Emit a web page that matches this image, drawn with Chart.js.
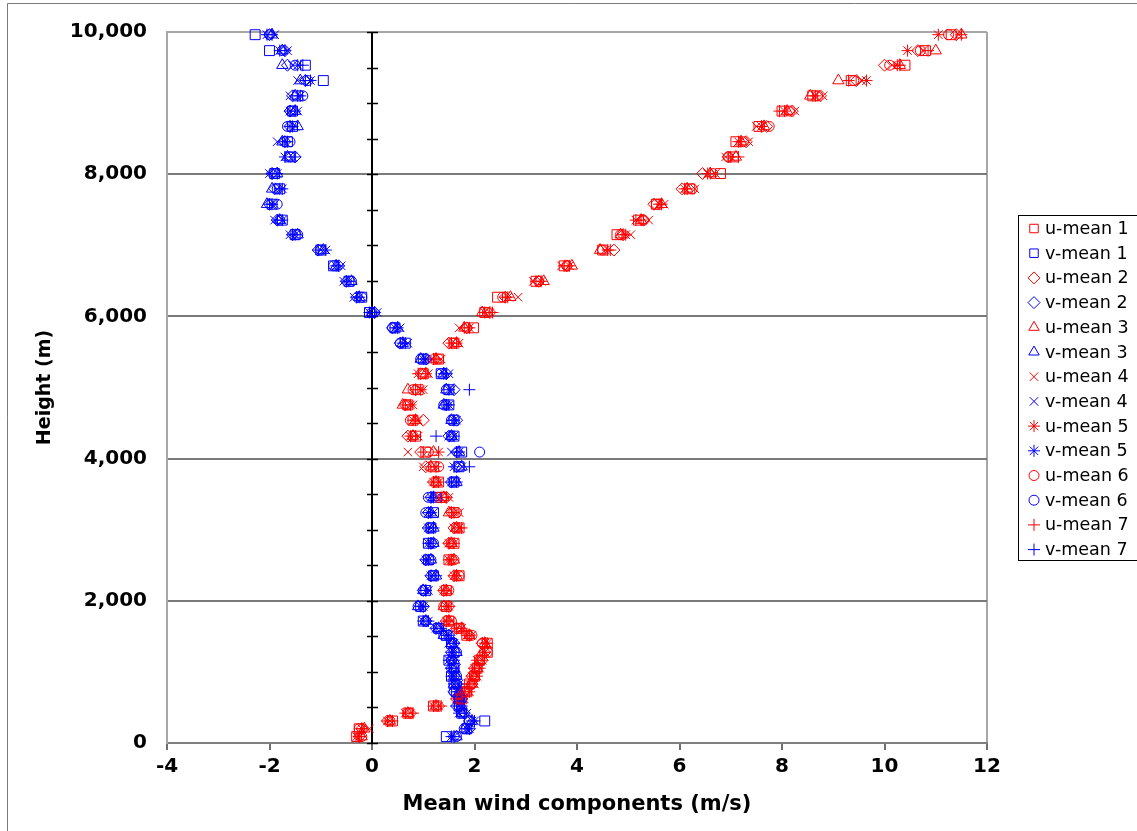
<!DOCTYPE html>
<html><head><meta charset="utf-8">
<script src="https://cdn.jsdelivr.net/npm/chart.js@4"></script>
<style>html,body{margin:0;padding:0;background:#fff;overflow:hidden}#wrap{position:relative;width:1137px;height:831px}</style>
</head><body><div id="wrap"><canvas id="c"></canvas></div>
<script>
// ---- data ----
const heights = [9962, 9738, 9533, 9317, 9102, 8888, 8672, 8457, 8243, 8009, 7794, 7578, 7354, 7149, 6933, 6711, 6494, 6270, 6055, 5839, 5624, 5400, 5194, 4969, 4755, 4540, 4316, 4092, 3885, 3670, 3455, 3240, 3025, 2809, 2576, 2352, 2146, 1921, 1715, 1613, 1515, 1403, 1276, 1164, 1052, 940, 830, 720, 620, 520, 420, 310, 200, 90];

const uMean1 = [11.3, 10.8, 10.4, 9.35, 8.6, 8.0, 7.55, 7.1, 7.05, 6.8, 6.2, 5.55, 5.2, 4.78, 4.5, 3.75, 3.2, 2.45, 2.2, 1.98, 1.6, 1.3, 1.0, 0.9, 0.7, 0.8, 0.85, 1.05, 1.2, 1.3, 1.35, 1.6, 1.7, 1.6, 1.5, 1.7, 1.45, 1.45, 1.5, 1.7, 1.85, 2.25, 2.25, 2.1, 2.05, 2.0, 1.9, 1.85, 1.75, 1.2, 0.7, 0.4, -0.25, -0.3];
const vMean1 = [-2.28, -2.0, -1.3, -0.95, -1.45, -1.55, -1.55, -1.65, -1.6, -1.9, -1.8, -1.95, -1.75, -1.5, -1.0, -0.75, -0.45, -0.2, -0.05, 0.45, 0.65, 1.0, 1.35, 1.5, 1.5, 1.6, 1.6, 1.75, 1.7, 1.6, 1.25, 1.2, 1.15, 1.1, 1.1, 1.2, 1.05, 0.95, 1.0, 1.3, 1.45, 1.55, 1.6, 1.5, 1.6, 1.55, 1.6, 1.65, 1.7, 1.7, 1.75, 2.2, 1.85, 1.45];
const uMean2 = [11.4, 10.65, 10.0, 9.45, 8.75, 8.2, 7.7, 7.3, 6.95, 6.45, 6.05, 5.5, 5.3, 4.9, 4.72, 3.8, 3.25, 2.6, 2.3, 1.85, 1.5, 1.2, 0.95, 0.85, 0.65, 1.0, 0.7, 0.95, 1.05, 1.2, 1.45, 1.55, 1.6, 1.5, 1.55, 1.6, 1.4, 1.5, 1.45, 1.65, 1.9, 2.15, 2.2, 2.15, 2.0, 1.95, 1.95, 1.8, 1.65, 1.3, 0.75, 0.3, -0.2, -0.25];
const vMean2 = [-2.0, -1.7, -1.65, -1.3, -1.55, -1.6, -1.6, -1.7, -1.5, -1.95, -1.9, -2.0, -1.85, -1.55, -1.05, -0.65, -0.5, -0.3, 0.05, 0.4, 0.55, 1.05, 1.45, 1.6, 1.45, 1.65, 1.5, 1.65, 1.65, 1.55, 1.15, 1.1, 1.1, 1.15, 1.05, 1.15, 1.0, 1.0, 1.05, 1.25, 1.5, 1.6, 1.55, 1.55, 1.55, 1.6, 1.65, 1.6, 1.75, 1.65, 1.8, 1.9, 1.9, 1.6];
const uMean3 = [11.5, 11.0, 10.3, 9.1, 8.55, 8.1, 7.65, 7.2, 7.1, 6.6, 6.15, 5.65, 5.25, 4.85, 4.45, 3.9, 3.35, 2.7, 2.15, 1.8, 1.65, 1.25, 1.05, 0.7, 0.6, 0.85, 0.8, 1.2, 1.15, 1.25, 1.4, 1.5, 1.65, 1.55, 1.6, 1.65, 1.45, 1.4, 1.5, 1.75, 1.9, 2.2, 2.15, 2.1, 2.05, 2.0, 1.95, 1.85, 1.7, 1.25, 0.7, 0.35, -0.15, -0.2];
const vMean3 = [-1.95, -1.75, -1.75, -1.4, -1.5, -1.5, -1.45, -1.75, -1.65, -1.85, -1.95, -2.05, -1.8, -1.45, -0.95, -0.7, -0.4, -0.25, 0.0, 0.5, 0.6, 0.95, 1.4, 1.45, 1.4, 1.55, 1.55, 1.7, 1.75, 1.65, 1.2, 1.15, 1.2, 1.2, 1.15, 1.25, 1.0, 0.9, 1.05, 1.3, 1.4, 1.55, 1.65, 1.6, 1.6, 1.65, 1.6, 1.7, 1.7, 1.75, 1.75, 1.95, 1.8, 1.65];
const uMean4 = [11.45, 10.75, 10.15, 9.55, 8.8, 8.25, 7.5, 7.35, 6.9, 6.7, 6.3, 5.7, 5.4, 5.05, 4.55, 3.7, 3.15, 2.85, 2.3, 1.7, 1.7, 1.35, 1.1, 1.0, 0.8, 0.9, 0.9, 0.7, 1.0, 1.3, 1.5, 1.7, 1.6, 1.6, 1.55, 1.65, 1.5, 1.45, 1.55, 1.75, 1.95, 2.2, 2.2, 2.05, 2.1, 2.05, 2.0, 1.9, 1.7, 1.3, 0.75, 0.35, -0.05, -0.3];
const vMean4 = [-1.9, -1.65, -1.55, -1.45, -1.6, -1.45, -1.5, -1.85, -1.55, -2.0, -1.85, -1.9, -1.9, -1.6, -1.0, -0.6, -0.55, -0.35, 0.1, 0.55, 0.7, 1.05, 1.5, 1.55, 1.5, 1.65, 1.5, 1.55, 1.75, 1.65, 1.25, 1.2, 1.15, 1.1, 1.1, 1.2, 1.1, 0.95, 1.1, 1.35, 1.5, 1.5, 1.6, 1.6, 1.65, 1.6, 1.7, 1.65, 1.8, 1.7, 1.85, 2.0, 1.9, 1.6];
const uMean5 = [11.05, 10.45, 10.25, 9.65, 8.65, 8.05, 7.6, 7.15, 7.0, 6.55, 6.1, 5.6, 5.15, 4.95, 4.6, 3.85, 3.3, 2.65, 2.2, 1.9, 1.55, 1.2, 0.9, 0.95, 0.75, 0.8, 0.75, 1.3, 1.25, 1.2, 1.35, 1.6, 1.7, 1.5, 1.5, 1.6, 1.4, 1.5, 1.45, 1.65, 1.85, 2.25, 2.2, 2.15, 2.0, 1.95, 1.9, 1.8, 1.65, 1.2, 0.65, 0.3, -0.2, -0.25];
const vMean5 = [-2.05, -1.8, -1.45, -1.2, -1.4, -1.6, -1.6, -1.7, -1.7, -1.85, -1.75, -1.95, -1.75, -1.5, -0.9, -0.7, -0.45, -0.25, -0.05, 0.45, 0.6, 1.0, 1.4, 1.5, 1.45, 1.6, 1.6, 1.7, 1.6, 1.55, 1.15, 1.1, 1.1, 1.15, 1.05, 1.15, 1.05, 1.0, 1.0, 1.25, 1.45, 1.6, 1.55, 1.5, 1.55, 1.55, 1.6, 1.7, 1.7, 1.75, 1.7, 1.95, 1.85, 1.55];
const uMean6 = [11.25, 10.7, 10.1, 9.4, 8.7, 8.15, 7.75, 7.25, 6.95, 6.65, 6.25, 5.55, 5.3, 4.85, 4.5, 3.8, 3.25, 2.55, 2.25, 1.85, 1.6, 1.3, 1.0, 0.8, 0.7, 0.75, 0.8, 1.1, 1.3, 1.25, 1.4, 1.65, 1.65, 1.55, 1.6, 1.7, 1.5, 1.4, 1.55, 1.7, 1.95, 2.15, 2.25, 2.1, 2.05, 2.0, 1.95, 1.85, 1.7, 1.25, 0.7, 0.35, -0.25, -0.2];
const vMean6 = [-2.0, -1.75, -1.5, -1.25, -1.35, -1.55, -1.65, -1.6, -1.6, -1.9, -1.85, -1.85, -1.8, -1.45, -1.0, -0.75, -0.4, -0.2, 0.0, 0.4, 0.55, 0.95, 1.35, 1.45, 1.4, 1.55, 1.55, 2.1, 1.7, 1.6, 1.1, 1.05, 1.15, 1.2, 1.15, 1.2, 1.0, 0.9, 1.05, 1.3, 1.4, 1.55, 1.65, 1.55, 1.6, 1.65, 1.65, 1.6, 1.75, 1.7, 1.75, 1.9, 1.8, 1.65];
const uMean7 = [11.5, 10.85, 10.3, 9.3, 8.6, 7.95, 7.6, 7.2, 7.15, 6.6, 6.15, 5.65, 5.25, 4.9, 4.65, 3.75, 3.2, 2.6, 2.35, 1.8, 1.65, 1.25, 1.05, 0.85, 0.65, 0.85, 0.85, 1.0, 1.15, 1.3, 1.45, 1.55, 1.75, 1.6, 1.55, 1.65, 1.45, 1.45, 1.5, 1.75, 1.9, 2.2, 2.2, 2.05, 2.1, 2.05, 1.9, 1.9, 1.75, 1.35, 0.8, 0.4, -0.2, -0.25];
const vMean7 = [-1.95, -1.7, -1.35, -1.3, -1.45, -1.5, -1.55, -1.65, -1.5, -1.95, -1.8, -2.0, -1.85, -1.55, -1.05, -0.65, -0.5, -0.3, 0.05, 0.5, 0.65, 1.05, 1.45, 1.9, 1.5, 1.6, 1.25, 1.65, 1.9, 1.65, 1.2, 1.15, 1.2, 1.1, 1.1, 1.25, 1.05, 0.95, 1.1, 1.35, 1.5, 1.6, 1.6, 1.6, 1.55, 1.6, 1.7, 1.65, 1.7, 1.65, 1.8, 2.0, 1.9, 1.6];

const seriesLabels = ['u-mean 1','v-mean 1','u-mean 2','v-mean 2','u-mean 3','v-mean 3','u-mean 4','v-mean 4','u-mean 5','v-mean 5','u-mean 6','v-mean 6','u-mean 7','v-mean 7'];
const seriesValues = [uMean1, vMean1, uMean2, vMean2, uMean3, vMean3, uMean4, vMean4, uMean5, vMean5, uMean6, vMean6, uMean7, vMean7];
const xTickValues = [-4, -2, 0, 2, 4, 6, 8, 10, 12];
const yTickValues = [0, 2000, 4000, 6000, 8000, 10000];
const zeroAxisMinorStep = 500;

// ---- styles ----
const markerStyles = [
  {pointStyle: 'rect', radius: 7},
  {pointStyle: 'rectRot', radius: 6},
  {pointStyle: 'triangle', radius: 6.5},
  {pointStyle: 'crossRot', radius: 6},
  {pointStyle: 'star', radius: 6},
  {pointStyle: 'circle', radius: 5},
  {pointStyle: 'cross', radius: 6}
];
const RED = '#FF0000', BLUE = '#0000FF';

const datasets = seriesLabels.map((label, i) => {
  const m = markerStyles[Math.floor(i / 2)];
  const color = (i % 2 === 0) ? RED : BLUE;
  return {
    label,
    data: seriesValues[i].map((v, k) => ({x: v, y: heights[k]})),
    showLine: false,
    pointStyle: m.pointStyle,
    pointRadius: m.radius,
    pointHoverRadius: m.radius,
    pointBorderWidth: 1,
    borderColor: color,
    backgroundColor: 'rgba(0,0,0,0)',
    pointBackgroundColor: 'rgba(0,0,0,0)',
    pointBorderColor: color,
    clip: false
  };
});

const frameLines = {
  id: 'frameLines',
  beforeDraw(chart) {
    const ctx = chart.ctx;
    ctx.save();
    ctx.fillStyle = '#fff';
    ctx.fillRect(0, 0, chart.width, chart.height);
    ctx.strokeStyle = '#7a7a7a';
    ctx.lineWidth = 1;
    ctx.beginPath();
    ctx.moveTo(7.5, chart.height);
    ctx.lineTo(7.5, 3.5);
    ctx.lineTo(chart.width, 3.5);
    ctx.stroke();
    ctx.restore();
  }
};

const zeroAxis = {
  id: 'zeroAxis',
  beforeDatasetsDraw(chart) {
    const {ctx, chartArea, scales} = chart;
    const px = Math.round(scales.x.getPixelForValue(0));
    ctx.save();
    ctx.strokeStyle = '#000';
    ctx.lineWidth = 2;
    ctx.beginPath();
    ctx.moveTo(px, chartArea.top);
    ctx.lineTo(px, chartArea.bottom);
    ctx.stroke();
    ctx.lineWidth = 1.5;
    ctx.beginPath();
    for (let h = scales.y.min; h <= scales.y.max; h += zeroAxisMinorStep) {
      const py = Math.round(scales.y.getPixelForValue(h)) + 0.5;
      ctx.moveTo(px - 5, py);
      ctx.lineTo(px + 6, py);
    }
    ctx.stroke();
    ctx.restore();
  }
};

const sideLegend = {
  id: 'sideLegend',
  afterDraw(chart) {
    const ctx = chart.ctx;
    const boxX = 1018.5, boxY = 215.5, boxW = 140, boxH = 345;
    ctx.save();
    ctx.strokeStyle = '#000';
    ctx.lineWidth = 1;
    ctx.strokeRect(boxX, boxY, boxW, boxH);
    ctx.font = '17.5px "DejaVu Sans"';
    ctx.textBaseline = 'middle';
    ctx.textAlign = 'left';
    chart.data.datasets.forEach((ds, i) => {
      const y = 228.5 + i * 24.7;
      ctx.strokeStyle = ds.pointBorderColor;
      ctx.fillStyle = 'rgba(0,0,0,0)';
      ctx.lineWidth = 1;
      Chart.helpers.drawPoint(ctx, {pointStyle: ds.pointStyle, radius: Math.min(ds.pointRadius, 6), rotation: 0, borderWidth: 1}, 1034, y);
      ctx.fillStyle = '#000';
      ctx.fillText(ds.label, 1045, y + 1);
    });
    ctx.restore();
  }
};

const tickFont = {family: 'DejaVu Sans', weight: 'bold', size: 20};

new Chart(document.getElementById('c'), {
  type: 'scatter',
  data: {datasets},
  plugins: [frameLines, zeroAxis, sideLegend],
  options: {
    responsive: true,
    maintainAspectRatio: false,
    animation: false,
    events: [],
    layout: {padding: {top: 30, right: 150, left: 0, bottom: 0}},
    plugins: {legend: {display: false}, tooltip: {enabled: false}},
    scales: {
      x: {
        type: 'linear', min: -4, max: 12,
        afterBuildTicks: s => { s.ticks = xTickValues.map(v => ({value: v})); },
        afterFit: s => { s.height = 88; },
        border: {display: true, color: '#7f7f7f', width: 2},
        grid: {
          display: true, drawOnChartArea: true, drawTicks: true,
          color: c => (c.tick && c.tick.value === 12) ? '#a6a6a6' : 'rgba(0,0,0,0)',
          lineWidth: 2, tickColor: '#6f6f6f', tickWidth: 2, tickLength: 7
        },
        ticks: {font: tickFont, color: '#000', padding: 5, maxRotation: 0},
        title: {display: true, text: 'Mean wind components (m/s)', color: '#000',
                font: {family: 'DejaVu Sans', weight: 'bold', size: 21}, padding: {top: 0, bottom: 14}}
      },
      y: {
        type: 'linear', min: 0, max: 10000,
        afterBuildTicks: s => { s.ticks = yTickValues.map(v => ({value: v})); },
        afterFit: s => { s.width = 167; },
        border: {display: true, color: '#a6a6a6', width: 2},
        grid: {
          display: true, drawOnChartArea: true, drawTicks: false,
          color: c => {
            const v = c.tick ? c.tick.value : 0;
            if (v === 0) return 'rgba(0,0,0,0)';
            if (v === 10000) return '#a6a6a6';
            return '#7a7a7a';
          },
          lineWidth: 2
        },
        ticks: {font: tickFont, color: '#000', padding: 20,
                callback: v => Number(v).toLocaleString('en-US')},
        title: {display: true, text: 'Height (m)', color: '#000',
                font: {family: 'DejaVu Sans', weight: 'bold', size: 19}, padding: {top: 34, bottom: 0}}
      }
    }
  }
});
</script>
</body></html>
